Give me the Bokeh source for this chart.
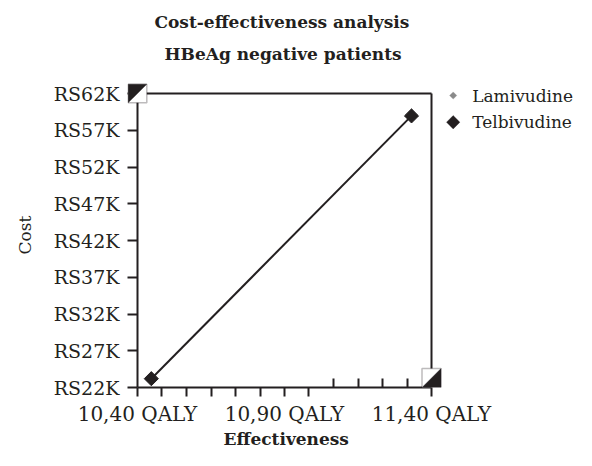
import math
from bokeh.plotting import figure
from bokeh.models import Range1d, FixedTicker, Title, PolyAnnotation, Label
from bokeh.embed import file_html
from bokeh.resources import INLINE

# ---------------- data ----------------
treatments = ["Lamivudine", "Telbivudine"]
effectiveness = [10.447, 11.332]          # QALY
cost = [23200, 58950]                     # RS
legend_colors = ["#8a8a8a", "#231f20"]

x_start, x_end = 10.40, 11.40
y_start, y_end = 22000, 62000

y_ticks = [22000, 27000, 32000, 37000, 42000, 47000, 52000, 57000, 62000]
y_tick_labels = ["RS22K", "RS27K", "RS32K", "RS37K", "RS42K", "RS47K", "RS52K", "RS57K", "RS62K"]

x_label_ticks = [10.4, 10.9, 11.4]
x_tick_labels = ["10,40 QALY", "10,90 QALY", "11,40 QALY"]
x_out_ticks = [10.4, 10.483, 10.567, 10.65, 10.733, 10.817, 10.9, 10.983, 11.4]
x_in_ticks = [11.067, 11.15, 11.233, 11.317]

# ---------------- layout ----------------
W, H = 576, 450
BOX_L, BOX_R, BOX_T, BOX_B = 137, 431, 93, 387     # the axes box
FL, FT, FR, FB = 127, 82, W, BOX_B                 # drawing frame
INK = "#231f20"
FONT = "DejaVu Serif"

SX = (x_end - x_start) / (BOX_R - BOX_L)   # data units per px
SY = (y_end - y_start) / (BOX_B - BOX_T)

def dx(px):
    return px * SX

def dy(px):
    return px * SY

x_range = Range1d(x_start - dx(BOX_L - FL), x_end + dx(FR - BOX_R))
y_range = Range1d(y_start - dy(FB - BOX_B), y_end + dy(BOX_T - FT))

p = figure(width=W, height=H, output_backend="svg", toolbar_location=None,
           x_range=x_range, y_range=y_range,
           title_location=None, min_border_left=FL, min_border_right=W - FR,
           min_border_top=FT, min_border_bottom=H - FB)
p.grid.visible = False
p.background_fill_color = "white"
p.border_fill_color = "white"
p.outline_line_color = None

sub = Title(text="HBeAg negative patients", align="left", offset=37, text_font=FONT,
            text_font_size="17px", text_font_style="bold", text_color=INK,
            vertical_align="bottom", standoff=38)
main = Title(text="Cost-effectiveness analysis", align="left", offset=27, text_font=FONT,
             text_font_size="17px", text_font_style="bold", text_color=INK,
             vertical_align="bottom", standoff=-18)
p.add_layout(sub, "above")
p.add_layout(main, "above")

xtitle = Title(text="Effectiveness", align="left", offset=96, text_font=FONT,
               text_font_size="17px", text_font_style="bold", text_color=INK,
               vertical_align="bottom", standoff=-4)
p.add_layout(xtitle, "below")

# x axis (bottom edge of the box)
xa = p.xaxis[0]
xa.ticker = FixedTicker(ticks=x_out_ticks, minor_ticks=x_in_ticks)
overrides = {t: "" for t in x_out_ticks}
for t, lab in zip(x_label_ticks, x_tick_labels):
    overrides[t] = lab
xa.major_label_overrides = overrides
xa.bounds = (x_start, x_end)
xa.major_tick_out = 9
xa.major_tick_in = 0
xa.minor_tick_in = 9
xa.minor_tick_out = 0
xa.axis_line_color = INK
xa.axis_line_width = 2
xa.major_label_text_font_size = "20px"
xa.major_label_standoff = 5

# y axis: labels and ticks; its line is the box's left edge drawn below
ya = p.yaxis[0]
ya.ticker = FixedTicker(ticks=y_ticks, minor_ticks=[])
ya.major_label_overrides = {t: lab for t, lab in zip(y_ticks, y_tick_labels)}
ya.axis_line_color = None
ya.major_tick_out = 0
ya.major_tick_in = BOX_L - FL
ya.axis_label = "Cost"
ya.axis_label_text_font_style = "normal"
ya.axis_label_text_font = FONT
ya.axis_label_text_font_size = "17px"
ya.axis_label_text_color = INK
ya.axis_label_standoff = 16
ya.major_label_text_font_size = "19px"
ya.major_label_standoff = 8

for ax in (xa, ya):
    ax.major_tick_line_color = INK
    ax.major_tick_line_width = 2
    ax.minor_tick_line_color = INK
    ax.minor_tick_line_width = 2
    ax.major_label_text_font = FONT
    ax.major_label_text_color = INK

# left, top and right edges of the box
p.segment(x0=[x_start, x_start, x_end], y0=[y_start, y_end, y_end],
          x1=[x_start, x_end, x_end], y1=[y_end, y_end, y_start],
          line_color=INK, line_width=2)

# data line and points
p.line(effectiveness, cost, line_color=INK, line_width=2)
p.scatter(effectiveness, cost, marker="square", size=10, angle=math.pi / 4,
          fill_color=INK, line_color=INK)

# corner quadrant squares
def corner_square(cx, cy, half, black):
    l, r = cx - dx(half), cx + dx(half)
    b, t = cy - dy(half), cy + dy(half)
    p.add_layout(PolyAnnotation(xs=[l, r, r, l], ys=[b, b, t, t], fill_color="white",
                                fill_alpha=1, line_color=INK, line_width=1.5))
    if black == "tl":
        xs, ys = [l, r, l], [t, t, b]
    else:
        xs, ys = [r, r, l], [t, b, b]
    p.add_layout(PolyAnnotation(xs=xs, ys=ys, fill_color=INK, fill_alpha=1,
                                line_color=INK, line_width=1))

corner_square(x_start, y_end, 9.3, "tl")
corner_square(x_end, y_start + dy(9.5), 9.5, "br")

# legend (right of the box)
leg_y = [y_end - dy(2), y_end - dy(28.7)]
leg_half = [3.6, 6.7]
mx = x_end + dx(21.7)
for name, col, ly, hh in zip(treatments, legend_colors, leg_y, leg_half):
    p.add_layout(PolyAnnotation(xs=[mx - dx(hh), mx, mx + dx(hh), mx],
                                ys=[ly, ly + dy(hh), ly, ly - dy(hh)],
                                fill_color=col, fill_alpha=1, line_color=col, line_width=1))
    p.add_layout(Label(x=x_end + dx(40.7), y=ly, text=name, text_font=FONT,
                       text_font_size="17px", text_color=INK, text_baseline="middle"))

open("out.html", "w").write(file_html(p, INLINE))
